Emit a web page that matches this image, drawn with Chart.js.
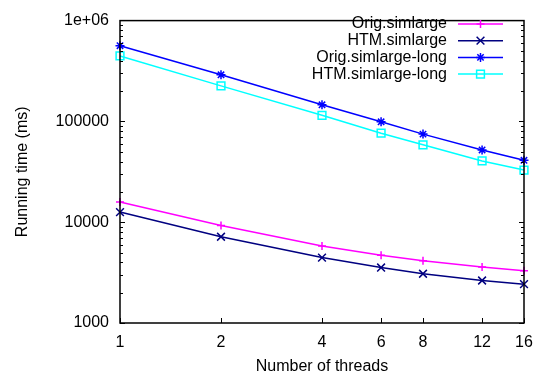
<!DOCTYPE html>
<html>
<head>
<meta charset="utf-8">
<script src="https://cdn.jsdelivr.net/npm/chart.js@4.4.1/dist/chart.umd.min.js"></script>
<style>
  html,body{margin:0;padding:0;background:#fff;}
  #wrap{width:544px;height:378px;}
</style>
</head>
<body>
<div id="wrap"><canvas id="chart" width="544" height="378"></canvas></div>
<script>
// dati (ms)
const threads = [1, 2, 4, 6, 8, 12, 16];
const origSimlarge     = [15900, 9270, 5820, 4700, 4140, 3600, 3290];
const htmSimlarge      = [12600, 7170, 4460, 3550, 3080, 2640, 2430];
const origSimlargeLong = [564000, 290000, 146000, 99100, 74800, 52100, 41100];
const htmSimlargeLong  = [446000, 225000, 115000, 76400, 58600, 40500, 32900];

const seriesNames = ['Orig.simlarge', 'HTM.simlarge', 'Orig.simlarge-long', 'HTM.simlarge-long'];
const yTicks = [1000, 10000, 100000, 1000000];
const yTickLabels = ['1000', '10000', '100000', '1e+06'];

const FONT = '"Liberation Sans", Arial, sans-serif';
const STYLES = [
  {color:'#ff00ff', point:'cross',    r:4},
  {color:'#000080', point:'crossRot', r:5.5},
  {color:'#0000ff', point:'star',     r:4.5},
  {color:'#00ffff', point:'rect',     r:5.5}
];

function pairs(vals){ return threads.map((t,i)=>({x:t, y:vals[i]})); }

const datasets = [origSimlarge, htmSimlarge, origSimlargeLong, htmSimlargeLong].map((vals,i)=>({
  label: seriesNames[i],
  data: pairs(vals),
  borderColor: STYLES[i].color,
  backgroundColor: 'transparent',
  borderWidth: 1.5,
  pointStyle: STYLES[i].point,
  pointRadius: STYLES[i].r,
  pointBorderWidth: 1.5,
  pointBorderColor: STYLES[i].color,
  pointBackgroundColor: 'transparent',
  tension: 0,
  clip: false
}));

// bordo + tacche stile gnuplot, legenda a destra
const gnuplotFrame = {
  id:'gnuplotFrame',
  afterDatasetsDraw(chart){
    const {ctx, chartArea:a, scales:{x, y}} = chart;
    ctx.save();
    ctx.strokeStyle = '#000';
    ctx.lineWidth = 1;
    ctx.beginPath();
    // tacche asse x (solo in basso)
    for(const t of threads){
      const px = Math.round(x.getPixelForValue(t)) + 0.5;
      ctx.moveTo(px, a.bottom); ctx.lineTo(px, a.bottom - 5);
    }
    // tacche asse y, sinistra e destra
    for(let d=1000; d<1000000; d*=10){
      for(let m=1; m<=9; m++){
        const v = d*m;
        const py = Math.round(y.getPixelForValue(v)) + 0.5;
        const len = m===1 ? 5 : 3;
        ctx.moveTo(a.left, py); ctx.lineTo(a.left + len, py);
        ctx.moveTo(a.right, py); ctx.lineTo(a.right - len, py);
      }
    }
    ctx.stroke();
    ctx.lineWidth = 1.5;
    ctx.strokeRect(a.left, a.top, a.right - a.left, a.bottom - a.top);
    ctx.restore();
  },
  afterDraw(chart){
    const ctx = chart.ctx;
    ctx.save();
    ctx.font = '16px ' + FONT;
    ctx.textAlign = 'right';
    ctx.textBaseline = 'middle';
    chart.data.datasets.forEach((ds,i)=>{
      const yy = 24 + i*16.7;
      ctx.fillStyle = '#000';
      ctx.fillText(ds.label, 447, yy);
      ctx.strokeStyle = ds.borderColor;
      ctx.lineWidth = 1.5;
      ctx.beginPath(); ctx.moveTo(458, yy); ctx.lineTo(503, yy); ctx.stroke();
      ctx.fillStyle = 'rgba(0,0,0,0)';
      Chart.helpers.drawPoint(ctx, {pointStyle: ds.pointStyle, radius: ds.pointRadius, rotation: 0, borderWidth: 1.5}, 480.5, yy);
    });
    ctx.restore();
  }
};

new Chart(document.getElementById('chart'), {
  type:'line',
  data:{datasets},
  options:{
    responsive:false,
    animation:false,
    layout:{padding:{top:12, right:20, left:0, bottom:0}},
    plugins:{legend:{display:false}, tooltip:{enabled:false}},
    scales:{
      x:{
        type:'logarithmic', min:1, max:16,
        afterBuildTicks(s){ s.ticks = threads.map(v=>({value:v})); },
        afterFit(s){ s.height = 55; },
        grid:{display:false, drawTicks:false},
        border:{display:false},
        ticks:{
          autoSkip:false, maxRotation:0, padding:10, color:'#000',
          font:{family:FONT, size:16},
          callback:(v)=> String(v)
        },
        title:{display:true, text:'Number of threads', color:'#000',
               font:{family:FONT, size:16}, padding:{top:0, bottom:2}}
      },
      y:{
        type:'logarithmic', min:1000, max:1000000,
        afterBuildTicks(s){ s.ticks = yTicks.map(v=>({value:v})); },
        afterFit(s){ s.width = 120; },
        grid:{display:false, drawTicks:false},
        border:{display:false},
        ticks:{
          padding:11, color:'#000',
          font:{family:FONT, size:16},
          callback:(v)=> yTickLabels[yTicks.indexOf(v)] ?? ''
        },
        title:{display:true, text:'Running time (ms)', color:'#000',
               font:{family:FONT, size:16}, padding:{top:13, bottom:0}}
      }
    }
  },
  plugins:[gnuplotFrame]
});
</script>
</body>
</html>
